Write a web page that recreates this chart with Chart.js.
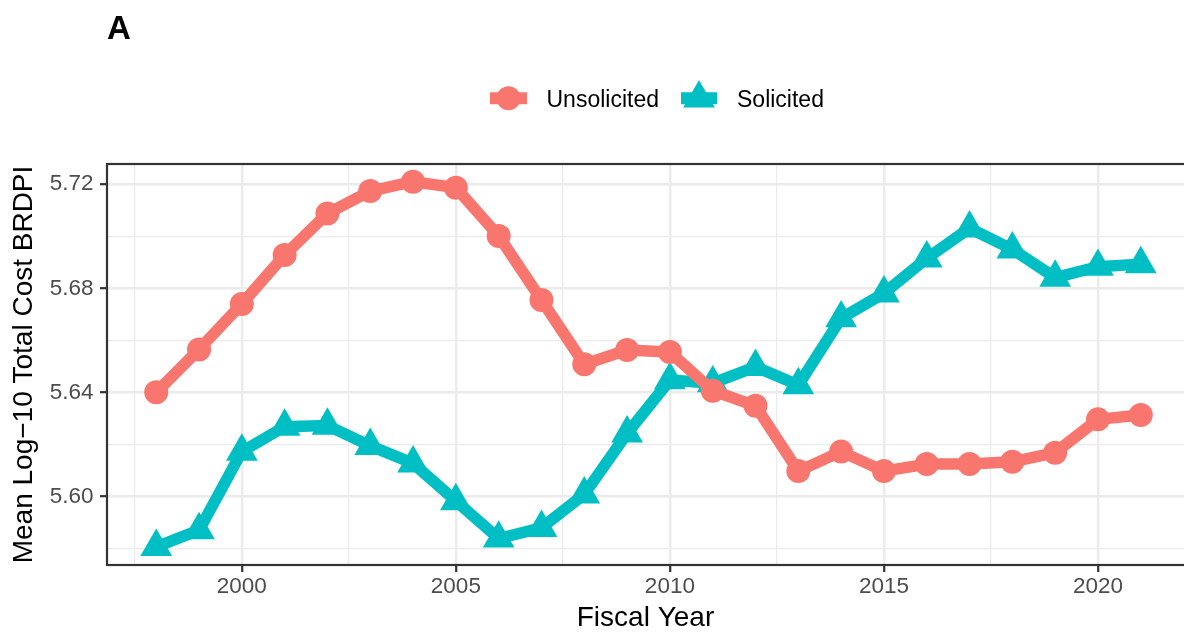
<!doctype html>
<html lang="en">
<head>
<meta charset="utf-8">
<title>Mean Log-10 Total Cost BRDPI by Fiscal Year</title>
<script src="https://cdn.jsdelivr.net/npm/chart.js@4.4.1/dist/chart.umd.min.js"></script>
<style>
  html, body { margin: 0; padding: 0; background: #ffffff; overflow: hidden; }
  #wrap { width: 1184px; height: 634px; }
  #chart { display: block; }
</style>
</head>
<body>
<div id="wrap"><canvas id="chart" width="1184" height="634"></canvas></div>
<script>
// values
var years = [1998, 1999, 2000, 2001, 2002, 2003, 2004, 2005, 2006, 2007, 2008, 2009,
             2010, 2011, 2012, 2013, 2014, 2015, 2016, 2017, 2018, 2019, 2020, 2021];
var unsolicited = [5.6400, 5.6565, 5.6740, 5.6928, 5.7088, 5.7174, 5.7210, 5.7187,
                   5.7001, 5.6755, 5.6508, 5.6563, 5.6555, 5.6406, 5.6348, 5.6097,
                   5.6172, 5.6097, 5.6124, 5.6124, 5.6133, 5.6168, 5.6296, 5.6313];
var solicited = [5.5806, 5.5870, 5.6172, 5.6268, 5.6272, 5.6194, 5.6127, 5.5982,
                 5.5838, 5.5879, 5.6008, 5.6242, 5.6447, 5.6435, 5.6498, 5.6428,
                 5.6685, 5.6781, 5.6915, 5.7031, 5.6950, 5.6841, 5.6883, 5.6893];
var xTicks = [1997.5, 2000, 2002.5, 2005, 2007.5, 2010, 2012.5, 2015, 2017.5, 2020];
var yTicks = [5.58, 5.60, 5.62, 5.64, 5.66, 5.68, 5.70, 5.72];
var seriesNames = ['Unsolicited', 'Solicited'];

var RED = '#F8766D';
var TEAL = '#00BFC4';
var FONT = "'Liberation Sans', Arial, Helvetica, sans-serif";

function isMajorX(v) { return Math.abs(v % 5) < 1e-6; }
function isMajorY(v) { return Math.round(v * 100) % 4 === 0; }

var markers = [
  { pointStyle: 'circle', radius: 12, color: RED },
  { pointStyle: 'triangle', radius: 18.3, color: TEAL }
];

var panelAndLegend = {
  id: 'panelAndLegend',
  afterDatasetsDraw: function (chart) {
    var a = chart.chartArea;
    var ctx = chart.ctx;
    ctx.save();
    ctx.strokeStyle = '#333333';
    ctx.lineWidth = 2.2;
    // the panel runs past the right edge of the picture
    ctx.strokeRect(a.left, a.top, a.right - a.left + 20, a.bottom - a.top);
    ctx.restore();
  },
  afterDraw: function (chart) {
    var ctx = chart.ctx;
    ctx.save();
    ctx.fillStyle = '#000000';
    ctx.textBaseline = 'alphabetic';
    ctx.textAlign = 'left';
    ctx.font = 'bold 33px ' + FONT;
    ctx.fillText('A', 107, 39);

    // legend: line + marker keys, then labels
    var keys = [{ x0: 490, x1: 527, tx: 546.5 }, { x0: 681, x1: 717, tx: 737 }];
    var ky = 98.3;
    keys.forEach(function (k, i) {
      var m = markers[i];
      ctx.strokeStyle = m.color;
      ctx.lineWidth = 12;
      ctx.beginPath();
      ctx.moveTo(k.x0, ky);
      ctx.lineTo(k.x1, ky);
      ctx.stroke();
      ctx.fillStyle = m.color;
      ctx.strokeStyle = m.color;
      Chart.helpers.drawPoint(ctx, { pointStyle: m.pointStyle, radius: m.radius, rotation: 0, borderWidth: 0 },
        (k.x0 + k.x1) / 2, ky);
      ctx.fillStyle = '#000000';
      ctx.font = '23px ' + FONT;
      ctx.fillText(seriesNames[i], k.tx, 106.5);
    });
    ctx.restore();
  }
};

function series(values, i) {
  var m = markers[i];
  return {
    label: seriesNames[i],
    data: years.map(function (y, j) { return { x: y, y: values[j] }; }),
    borderColor: m.color,
    backgroundColor: m.color,
    borderWidth: 11.5,
    pointStyle: m.pointStyle,
    pointRadius: m.radius,
    pointHoverRadius: m.radius,
    pointBorderWidth: 0,
    pointBackgroundColor: m.color,
    tension: 0,
    borderJoinStyle: 'round',
    borderCapStyle: 'butt',
    clip: false
  };
}

new Chart(document.getElementById('chart').getContext('2d'), {
  type: 'line',
  data: { datasets: [series(unsolicited, 0), series(solicited, 1)] },
  options: {
    responsive: false,
    animation: false,
    devicePixelRatio: 1,
    layout: { autoPadding: false, padding: { top: 164, right: 0, left: 0, bottom: 0 } },
    plugins: { legend: { display: false }, tooltip: { enabled: false }, title: { display: false } },
    scales: {
      x: {
        type: 'linear',
        min: 1996.85,
        max: 2022.01,
        afterBuildTicks: function (scale) {
          scale.ticks = xTicks.map(function (v) { return { value: v }; });
        },
        afterFit: function (scale) {
          scale.height = 69;
          scale.paddingLeft = 0;
          scale.paddingRight = 0;
        },
        border: { display: false },
        grid: {
          color: '#EBEBEB',
          lineWidth: function (c) { return c.tick && isMajorX(c.tick.value) ? 2.4 : 1.2; },
          tickColor: function (c) { return c.tick && isMajorX(c.tick.value) ? '#333333' : 'rgba(0,0,0,0)'; },
          tickWidth: 2.2,
          tickLength: 7
        },
        ticks: {
          autoSkip: false,
          maxRotation: 0,
          padding: 1,
          color: '#4D4D4D',
          font: { family: FONT, size: 22.5 },
          callback: function (v) { return isMajorX(v) ? String(v) : ''; }
        },
        title: {
          display: true,
          text: 'Fiscal Year',
          color: '#000000',
          font: { family: FONT, size: 28, lineHeight: 1 },
          padding: { top: 0, bottom: 2 }
        }
      },
      y: {
        type: 'linear',
        min: 5.5736,
        max: 5.7278,
        afterBuildTicks: function (scale) {
          scale.ticks = yTicks.map(function (v) { return { value: v }; });
        },
        afterFit: function (scale) {
          scale.width = 107;
          scale.paddingTop = 0;
          scale.paddingBottom = 0;
        },
        border: { display: false },
        grid: {
          color: '#EBEBEB',
          lineWidth: function (c) { return c.tick && isMajorY(c.tick.value) ? 2.4 : 1.2; },
          tickColor: function (c) { return c.tick && isMajorY(c.tick.value) ? '#333333' : 'rgba(0,0,0,0)'; },
          tickWidth: 2.2,
          tickLength: 7
        },
        ticks: {
          autoSkip: false,
          padding: 6.5,
          color: '#4D4D4D',
          font: { family: FONT, size: 22.5 },
          callback: function (v) { return isMajorY(v) ? v.toFixed(2) : ''; }
        },
        title: {
          display: true,
          text: 'Mean Log\u221210 Total Cost BRDPI',
          color: '#000000',
          font: { family: FONT, size: 28, lineHeight: 1 },
          padding: { top: 10.5, bottom: 0 }
        }
      }
    }
  },
  plugins: [panelAndLegend]
});
</script>
</body>
</html>
